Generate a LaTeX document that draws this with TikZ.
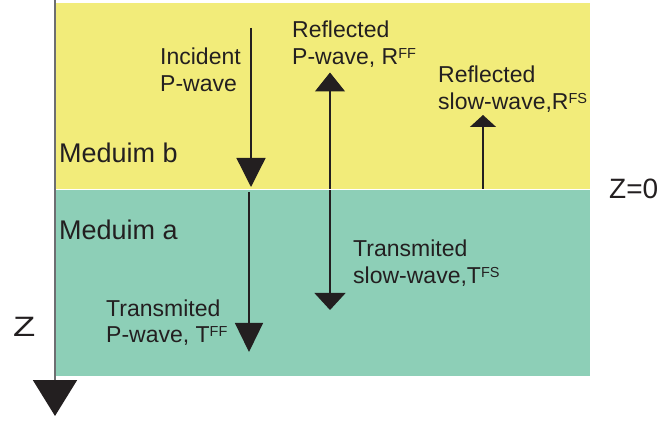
\documentclass[tikz,border=0pt]{standalone}
\usepackage{fontspec}
\setmainfont{Liberation Sans}
\usetikzlibrary{arrows.meta}
\definecolor{ylw}{RGB}{242,236,122}
\definecolor{tel}{RGB}{141,207,183}
\definecolor{ink}{RGB}{35,31,32}
\definecolor{axisgray}{RGB}{109,110,113}
\newcommand{\supx}[1]{\raisebox{6.2pt}{\fontsize{14.5}{14.5}\selectfont #1}}
\begin{document}
\begin{tikzpicture}[x=1pt,y=-1pt,
  lbl/.style={anchor=base west, inner sep=0pt, text=ink, font=\fontsize{23}{27}\selectfont},
  big/.style={anchor=base west, inner sep=0pt, text=ink, font=\fontsize{27}{32}\selectfont},
  axlbl/.style={anchor=base west, inner sep=0pt, text=ink, font=\fontsize{28}{32}\selectfont},
  wave/.style={draw=ink, line width=1.3pt},
]
\useasboundingbox (0,0) rectangle (662,422);
% media
\fill[ylw] (56,3) rectangle (590,189);
\fill[tel] (56,190.5) rectangle (590,376);
% depth axis
\coordinate (ax0) at (55,0);
\coordinate (ax1) at (55,416);
\draw[axisgray, line width=2pt, -{Triangle[width=44pt,length=36pt,color=ink]}] (ax0) -- (ax1);
% waves
\coordinate (inc0) at (251,28);   \coordinate (inc1) at (251,187);
\coordinate (tp0) at (249,192);   \coordinate (tp1) at (249,352);
\coordinate (rp0) at (330,189);   \coordinate (rp1) at (330,72.5);
\coordinate (ts0) at (330,190);   \coordinate (ts1) at (330,310);
\coordinate (rs0) at (483,189);   \coordinate (rs1) at (483,115);
\draw[wave, -{Triangle[width=29pt,length=29pt]}] (inc0) -- (inc1);
\draw[wave, -{Triangle[width=28pt,length=29pt]}] (tp0) -- (tp1);
\draw[wave, -{Triangle[width=30pt,length=19pt]}] (rp0) -- (rp1);
\draw[wave, -{Triangle[width=31pt,length=17pt]}] (ts0) -- (ts1);
\draw[wave, -{Triangle[width=26pt,length=12pt]}] (rs0) -- (rs1);
% labels
\node[lbl] (incA) at (160,65) {Incident};
\node[lbl] (incB) at (160,92) {P-wave};
\node[lbl] (rpA) at (292,38) {Reflected};
\node[lbl] (rpB) at (292,65) {P-wave, R\supx{FF}};
\node[lbl] (rsA) at (438,83) {Reflected};
\node[lbl] (rsB) at (438,110) {slow-wave,R\supx{FS}};
\node[big] (medb) at (59,163) {Meduim b};
\node[big] (meda) at (59,240) {Meduim a};
\node[lbl] (tpA) at (106,317) {Transmited};
\node[lbl] (tpB) at (106,343) {P-wave, T\supx{FF}};
\node[lbl] (tsA) at (353,257) {Transmited};
\node[lbl] (tsB) at (353,284) {slow-wave,T\supx{FS}};
\node[axlbl] (zzero) at (609,199) {Z=0};
\node[axlbl] (zlab) at (13,337) {\scalebox{1.3}[1]{Z}};
\end{tikzpicture}
\end{document}
